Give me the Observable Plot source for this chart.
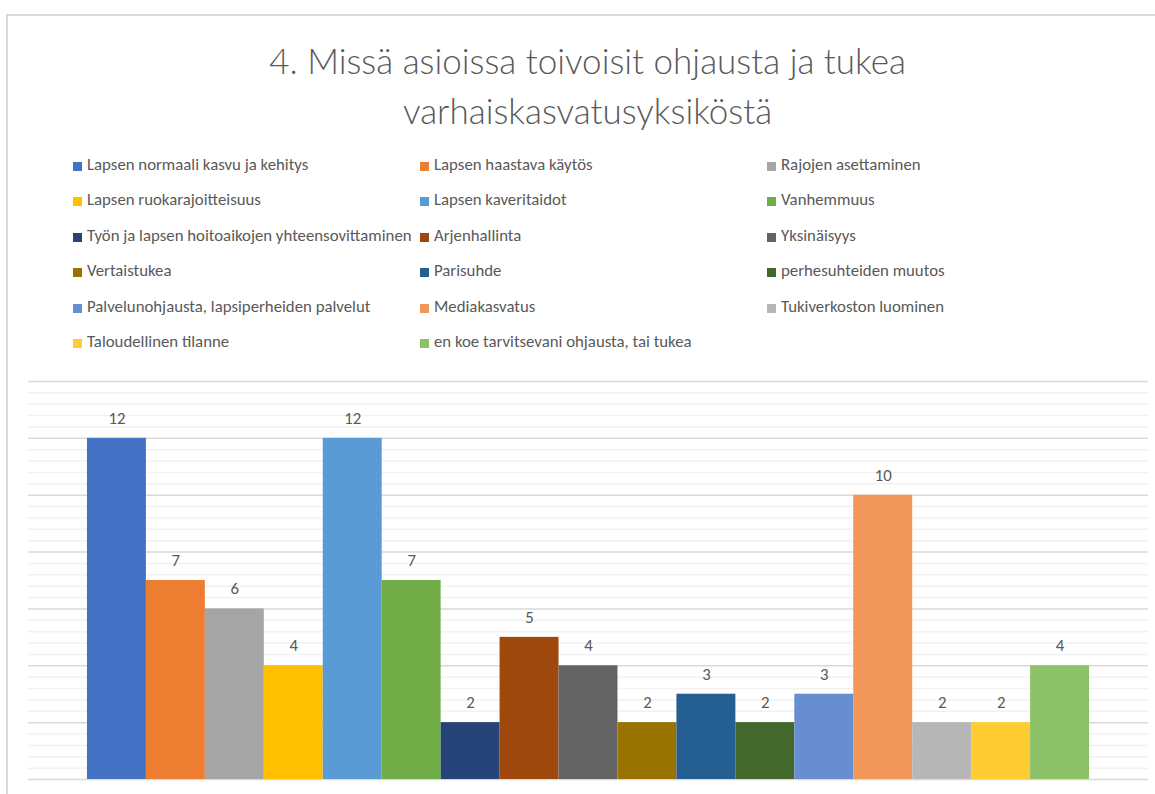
<!DOCTYPE html>
<html>
<head>
<meta charset="utf-8">
<script src="https://cdn.jsdelivr.net/npm/d3@7"></script>
<script src="https://cdn.jsdelivr.net/npm/@observablehq/plot@0.6"></script>
<style>
  html, body { margin: 0; padding: 0; background: #fff; }
  #wrap { position: relative; width: 1155px; height: 794px; overflow: hidden; font-family: Carlito, Lato, "Liberation Sans", sans-serif; color: #595959; }
  #frame { position: absolute; left: 6px; top: 14px; width: 1200px; height: 900px; border-left: 2px solid #d9d9d9; border-top: 2px solid #d9d9d9; }
  #title { position: absolute; left: 0; width: 1175px; top: 35px; text-align: center; font-family: "Lato Light", Lato, sans-serif; font-size: 35px; font-weight: 300; line-height: 50px; color: #595959; }
  .leg { position: absolute; font-size: 16.8px; line-height: 20px; white-space: nowrap; }
  .sw { position: absolute; width: 9px; height: 9px; }
  #chart { position: absolute; left: 0; top: 370px; }
</style>
</head>
<body>
<div id="wrap">
  <div id="frame"></div>
  <div id="title">4. Missä asioissa toivoisit ohjausta ja tukea<br>varhaiskasvatusyksiköstä</div>
  <div id="legend"></div>
  <div id="chart"></div>
</div>
<script>
const categories = [
  "Lapsen normaali kasvu ja kehitys",
  "Lapsen haastava käytös",
  "Rajojen asettaminen",
  "Lapsen ruokarajoitteisuus",
  "Lapsen kaveritaidot",
  "Vanhemmuus",
  "Työn ja lapsen hoitoaikojen yhteensovittaminen",
  "Arjenhallinta",
  "Yksinäisyys",
  "Vertaistukea",
  "Parisuhde",
  "perhesuhteiden muutos",
  "Palvelunohjausta, lapsiperheiden palvelut",
  "Mediakasvatus",
  "Tukiverkoston luominen",
  "Taloudellinen tilanne",
  "en koe tarvitsevani ohjausta, tai tukea"
];
const values = [12, 7, 6, 4, 12, 7, 2, 5, 4, 2, 3, 2, 3, 10, 2, 2, 4];
const colors = [
  "#4472C4", "#ED7D31", "#A5A5A5", "#FFC000", "#5B9BD5", "#70AD47",
  "#264478", "#9E480E", "#636363", "#997300", "#255E91", "#43682B",
  "#698ED0", "#F1975A", "#B7B7B7", "#FFCD33", "#8CC168"
];
const majorTicks = [0, 2, 4, 6, 8, 10, 12, 14];

const data = categories.map((c, i) => ({category: c, value: values[i], color: colors[i]}));
const minorTicks = d3.range(0, 14.001, 0.4).filter(v => Math.abs(v / 2 - Math.round(v / 2)) > 1e-6);

// Legend (3 columns, row-major order)
const legend = document.getElementById("legend");
const colX = [73, 420, 767];
const rowY = [166, 201, 237, 272, 308, 343];
data.forEach((d, i) => {
  const col = i % 3, row = Math.floor(i / 3);
  const sw = document.createElement("div");
  sw.className = "sw";
  sw.style.left = colX[col] + "px";
  sw.style.top = (rowY[row] - 4.5) + "px";
  sw.style.background = d.color;
  legend.appendChild(sw);
  const t = document.createElement("div");
  t.className = "leg";
  t.style.left = (colX[col] + 14) + "px";
  t.style.top = (rowY[row] - 11) + "px";
  t.textContent = d.category;
  legend.appendChild(t);
});

const chart = Plot.plot({
  width: 1155,
  height: 424,
  marginLeft: 28,
  marginRight: 7,
  marginTop: 11,
  marginBottom: 15,
  style: {fontFamily: "Carlito, Lato, 'Liberation Sans', sans-serif", fontSize: "16.8px", color: "#595959", background: "transparent"},
  x: {domain: categories, paddingInner: 0, paddingOuter: 1, round: false, axis: null},
  y: {domain: [0, 14], axis: null},
  color: {type: "identity"},
  marks: [
    Plot.ruleY(minorTicks, {stroke: "#f2f2f2", strokeWidth: 1.5}),
    Plot.ruleY(majorTicks, {stroke: "#d9d9d9", strokeWidth: 1.5}),
    Plot.barY(data, {x: "category", y: "value", fill: "color"}),
    Plot.text(data, {x: "category", y: "value", text: d => String(d.value), dy: -20, fill: "#595959"})
  ]
});
document.getElementById("chart").appendChild(chart);
</script>
</body>
</html>
